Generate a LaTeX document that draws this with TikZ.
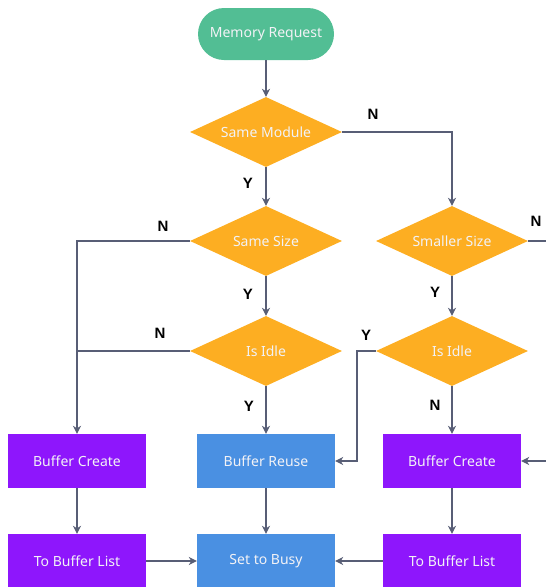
\documentclass[tikz,border=0pt]{standalone}
\usepackage{fontspec}
\setmainfont{Noto Sans}
\newfontfamily\lblfont{Liberation Sans}[BoldFont={* Bold}]
\usetikzlibrary{shapes.geometric,arrows.meta}
\definecolor{cgreen}{RGB}{82,190,148}
\definecolor{corange}{RGB}{253,174,34}
\definecolor{cpurple}{RGB}{142,22,252}
\definecolor{cblue}{RGB}{74,144,226}
\definecolor{cline}{RGB}{88,94,118}
\definecolor{ctext}{RGB}{242,242,246}
\begin{document}
\begin{tikzpicture}[x=1pt,y=-1pt,
  every node/.style={font=\fontsize{14}{16}\selectfont},
  term/.style={fill=cgreen, text=ctext, rounded corners=26pt, minimum width=136pt, minimum height=52pt, inner sep=0pt},
  decide/.style={diamond, fill=corange, text=ctext, minimum width=152pt, minimum height=70pt, aspect=2.17, inner sep=0pt},
  pbox/.style={rectangle, fill=cpurple, text=ctext, minimum width=138pt, minimum height=54pt, inner sep=0pt},
  bbox/.style={rectangle, fill=cblue, text=ctext, minimum width=138pt, minimum height=54pt, inner sep=0pt},
  lbl/.style={font=\fontsize{15}{16}\selectfont\lblfont\bfseries, text=black},
  conn/.style={draw=cline, line width=1.1pt},
  arr/.style={conn, -{Stealth[length=8pt,width=8pt,inset=2.5pt]}}]
\clip (0,0) rectangle (546,587);
\node[term] (mr) at (266,34) {Memory Request};
\node[decide] (sm) at (266,132) {Same Module};
\node[decide] (ss) at (266,241) {Same Size};
\node[decide] (ii1) at (266,351) {Is Idle};
\node[decide] (sl) at (452,241) {Smaller Size};
\node[decide] (ii2) at (452,351) {Is Idle};
\node[pbox] (bc1) at (77,461) {Buffer Create};
\node[bbox] (br) at (266,461) {Buffer Reuse};
\node[pbox] (bc2) at (452,461) {Buffer Create};
\node[pbox] (tb1) at (77,561) {To Buffer List};
\node[bbox] (sb) at (266,561) {Set to Busy};
\node[pbox] (tb2) at (452,561) {To Buffer List};
\coordinate (ro1) at (560,241);
\coordinate (ro2) at (560,461);
\coordinate (jl) at (77,351);
\coordinate (jr) at (357,351);

\draw[arr] (mr) -- (sm);
\draw[arr] (sm.east) -| (sl.north);
\draw[arr] (sm) -- (ss);
\draw[arr] (ss.west) -| (bc1.north);
\draw[conn] (ii1.west) -- (jl);
\draw[arr] (ss) -- (ii1);
\draw[arr] (ii1) -- (br);
\draw[conn] (sl.east) -- (ro1);
\draw[arr] (sl) -- (ii2);
\draw[arr] (ii2.west) -- (jr) |- (br.east);
\draw[arr] (ii2) -- (bc2);
\draw[arr] (ro2) -- (bc2.east);
\draw[arr] (bc1) -- (tb1);
\draw[arr] (br) -- (sb);
\draw[arr] (bc2) -- (tb2);
\draw[arr] (tb1) -- (sb);
\draw[arr] (tb2) -- (sb);

\node[lbl] (n1) at (373,114) {N};
\node[lbl] (y1) at (248,183) {Y};
\node[lbl] (n2) at (163,226) {N};
\node[lbl] (y2) at (248,294) {Y};
\node[lbl] (n3) at (160,333) {N};
\node[lbl] (y3) at (249,406) {Y};
\node[lbl] (n4) at (536,221) {N};
\node[lbl] (y4) at (435,292) {Y};
\node[lbl] (y5) at (366,335) {Y};
\node[lbl] (n5) at (435,405) {N};
\end{tikzpicture}
\end{document}
